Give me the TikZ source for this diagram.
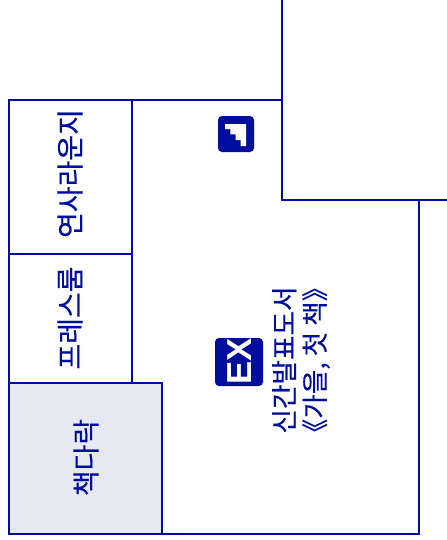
\documentclass[tikz,border=0pt]{standalone}
\usepackage{graphicx}
\usepackage{fontspec}
\setmainfont[FakeBold=0.35]{Noto Sans CJK KR}
\newfontfamily\exfont{Liberation Sans}
\definecolor{navy}{HTML}{000E9E}
\definecolor{paler}{HTML}{E6E9F2}
\tikzset{
  wall/.style={draw=navy,line width=1pt},
  label/.style={text=navy,rotate=90,inner sep=0pt,align=center,font=\fontsize{21pt}{23pt}\selectfont},
  booklabel/.style={label,font=\fontsize{20pt}{23pt}\selectfont},
  badge/.style={fill=navy,rounded corners=3pt}
}
\begin{document}
\begin{tikzpicture}[x=0.75pt,y=-0.75pt]
\useasboundingbox (0,0) rectangle (447,540);
\draw[wall] (132,100) -- (282,100);
\draw[wall] (282,0) -- (282,200) -- (447,200);
\draw[wall] (419,200) -- (419,534) -- (132,534);
\draw[wall] (9,100) rectangle (132,254);
\draw[wall] (9,254) rectangle (132,383);
\draw[wall,fill=paler] (9,383) rectangle (162,534);
\node[label] (lounge) at (70,173.5) {연사라운지};
\node[label] (press) at (70,318) {프레스룸};
\node[label] (attic) at (86,457.5) {책다락};
\node[booklabel] (books) at (301,360) {신간발표도서\\《가을, 첫 책》};
\fill[badge] (218,116) rectangle (254,152);
\fill[white] (225,124) -- (246,124) -- (246,146) -- (240.7,146) -- (240.7,140) -- (235.7,140) -- (235.7,134.3) -- (230.3,134.3) -- (230.3,129) -- (225,129) -- cycle;
\fill[badge] (215,338) rectangle (263,386);
\node[text=white,rotate=90,inner sep=0pt,font=\exfont\bfseries\fontsize{26pt}{26pt}\selectfont] (ex) at (239.5,361) {\scalebox{1}[1.0]{EX}};
\end{tikzpicture}
\end{document}
